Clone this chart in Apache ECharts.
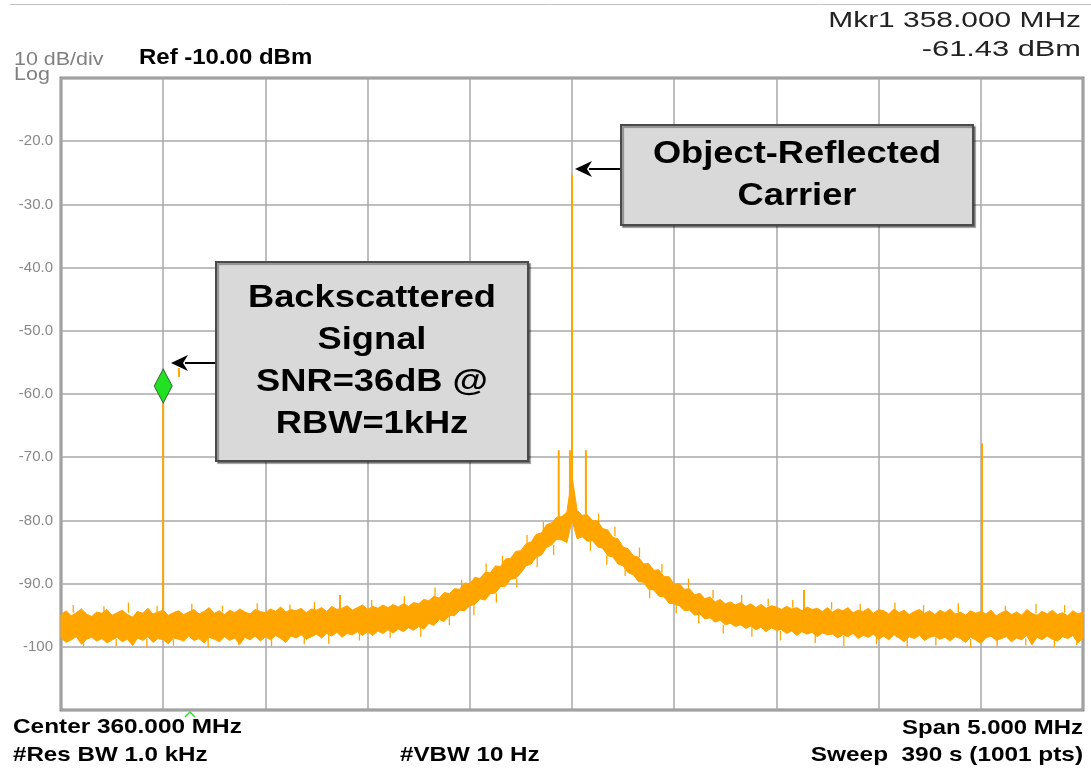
<!DOCTYPE html>
<html>
<head>
<meta charset="utf-8">
<script src="https://cdn.jsdelivr.net/npm/echarts@6/dist/echarts.min.js"></script>
<style>
html,body{margin:0;padding:0;background:#fff;}
#chart{width:1091px;height:770px;}
</style>
</head>
<body>
<div id="chart"></div>
<script>
// ---- Data ----
// Sweep: 357.5 .. 362.5 MHz, envelope sampled every 0.025 MHz
const sweepStart = 357.5;
const sweepStep = 0.025;

// Upper edge of the noise trace (dBm)
const upperEnv = [
 -94.9,-94.3,-95.1,-94.6,-94.0,-94.8,-95.2,-94.5,-94.7,-94.1,
 -95.0,-94.6,-94.2,-94.9,-95.3,-94.4,-94.7,-93.9,-94.8,-94.5,
 -94.2,-95.0,-94.6,-94.3,-94.9,-94.5,-94.1,-94.8,-94.4,-93.8,
 -94.7,-94.3,-94.9,-94.2,-94.6,-94.0,-94.5,-94.8,-94.1,-94.4,
 -94.6,-94.0,-94.4,-93.7,-94.5,-94.1,-94.3,-93.9,-94.6,-94.0,
 -94.2,-93.8,-94.4,-93.6,-94.1,-93.9,-93.5,-94.2,-93.8,-93.4,
 -94.1,-93.6,-93.9,-93.4,-93.8,-93.3,-93.7,-93.2,-93.6,-93.0,
 -93.2,-92.5,-92.7,-92.0,-92.3,-91.4,-91.6,-90.8,-90.9,-89.9,
 -90.0,-89.0,-89.2,-88.2,-88.3,-87.2,-87.3,-86.1,-86.0,-84.9,
 -84.8,-83.7,-83.4,-82.2,-82.0,-80.7,-80.4,-79.5,-79.4,-78.7,
 -73.0,
 -78.4,-79.2,-79.1,-80.0,-80.1,-81.3,-81.5,-82.7,-82.9,-84.2,
 -84.5,-85.6,-85.8,-86.9,-86.8,-87.9,-87.8,-88.9,-88.9,-90.1,
 -90.0,-90.9,-90.8,-91.8,-91.5,-92.4,-92.1,-92.9,-92.5,-93.2,
 -92.9,-93.4,-93.0,-93.6,-93.2,-93.8,-93.3,-93.9,-93.5,-93.7,
 -94.1,-93.6,-94.0,-93.8,-94.3,-93.7,-94.1,-93.9,-94.4,-93.8,
 -94.5,-94.0,-94.3,-93.8,-94.6,-94.2,-94.4,-93.9,-94.7,-94.1,
 -94.3,-94.8,-94.0,-94.6,-94.2,-94.9,-94.4,-94.1,-94.7,-94.3,
 -94.9,-94.2,-94.6,-94.0,-94.8,-94.5,-95.0,-94.3,-94.7,-94.4,
 -94.8,-94.2,-95.1,-94.6,-94.3,-94.9,-94.5,-95.0,-94.1,-94.7,
 -95.0,-94.4,-94.8,-94.2,-94.9,-94.6,-95.1,-94.3,-94.8,-94.5
];

// Lower edge of the noise trace (dBm)
const lowerEnv = [
 -98.6,-99.3,-98.9,-98.4,-99.6,-98.8,-98.5,-99.1,-98.7,-99.4,
 -98.9,-98.5,-99.2,-98.8,-99.8,-98.6,-99.0,-98.4,-99.3,-98.7,
 -98.9,-99.5,-98.6,-98.8,-99.1,-98.3,-99.0,-98.7,-99.4,-98.5,
 -98.8,-99.2,-98.4,-99.0,-98.6,-99.6,-98.5,-98.9,-98.3,-99.1,
 -98.4,-98.9,-98.2,-98.7,-99.3,-98.3,-98.6,-98.1,-98.8,-98.4,
 -98.0,-98.6,-97.9,-98.3,-97.7,-98.5,-97.9,-98.1,-97.6,-98.2,
 -97.6,-98.2,-97.5,-97.9,-97.3,-97.8,-97.2,-97.6,-97.0,-97.4,
 -96.8,-97.2,-96.3,-96.6,-95.7,-96.0,-95.0,-95.1,-94.2,-94.3,
 -93.5,-93.3,-92.4,-92.6,-91.6,-91.5,-90.5,-90.4,-89.3,-89.2,
 -88.3,-87.2,-86.9,-85.8,-85.5,-84.3,-83.9,-83.0,-83.1,-83.5,
 -80.0,
 -82.9,-82.6,-83.3,-83.2,-84.2,-84.4,-85.6,-85.8,-86.9,-87.2,
 -88.3,-88.6,-89.7,-89.8,-90.9,-91.0,-92.0,-92.1,-93.1,-93.2,
 -93.5,-94.3,-94.2,-95.0,-94.8,-95.6,-95.4,-96.1,-95.8,-96.5,
 -96.3,-96.8,-96.5,-97.1,-96.7,-97.3,-96.9,-97.6,-97.0,-97.4,
 -97.3,-97.9,-97.5,-98.2,-97.6,-98.0,-97.7,-98.4,-97.8,-98.1,
 -98.0,-98.6,-98.1,-98.4,-97.9,-98.7,-98.2,-98.5,-98.0,-98.8,
 -98.3,-98.9,-98.1,-98.6,-99.2,-98.4,-98.7,-98.2,-99.0,-98.5,
 -98.3,-98.8,-98.5,-99.1,-98.4,-98.7,-99.3,-98.5,-98.9,-99.5,
 -98.6,-98.3,-99.0,-98.7,-98.4,-99.2,-98.6,-98.9,-98.2,-99.7,
 -98.5,-98.9,-98.3,-98.8,-99.1,-98.4,-98.7,-98.2,-99.4,-98.6
];

// Isolated noise excursions poking out of the trace: frequency, start level, tip level
const noiseFreq = [
 357.56,357.71,357.83,357.97,358.14,358.29,358.46,358.62,358.74,359.02,359.18,359.33,359.46,359.58,359.66,359.78,359.86,
 360.13,360.21,360.33,360.44,360.57,360.69,360.83,360.96,361.08,361.27,361.41,361.58,361.72,361.89,362.12,362.27,362.41,
 357.61,357.77,357.92,358.05,358.22,358.37,358.53,358.69,358.81,358.96,359.11,359.26,359.40,359.52,359.63,359.73,359.83,359.91,
 360.09,360.17,360.26,360.38,360.51,360.62,360.74,360.88,361.02,361.19,361.33,361.49,361.64,361.78,361.95,362.08,362.22,362.36,362.47
];
const noiseFrom = [
 -94.6,-94.5,-94.6,-94.5,-94.5,-94.4,-94.4,-94.3,-94.2,-93.8,-93.3,-92.0,-90.8,-88.2,-87.0,-83.7,-81.6,
 -80.3,-82.5,-85.8,-88.3,-90.7,-92.4,-93.1,-93.6,-93.8,-94.1,-94.2,-94.4,-94.5,-94.5,-94.6,-94.7,-94.6,
 -98.7,-98.8,-98.7,-98.8,-98.6,-98.6,-98.5,-98.4,-97.9,-97.6,-97.3,-96.8,-95.0,-93.3,-91.5,-89.2,-85.8,-83.9,
 -83.2,-85.6,-87.2,-90.9,-93.2,-94.8,-96.5,-96.9,-97.5,-98.0,-98.3,-98.4,-98.6,-98.5,-98.8,-98.6,-98.7,-98.6,-98.7
];
const noiseTip = [
 -93.4,-93.6,-93.0,-93.5,-93.2,-93.5,-93.1,-93.3,-92.9,-92.6,-92.0,-90.6,-89.4,-86.8,-85.6,-82.3,-80.2,
 -78.9,-81.0,-84.3,-86.9,-89.2,-91.0,-91.8,-92.4,-92.6,-92.9,-93.2,-93.0,-93.4,-93.1,-93.5,-93.2,-93.4,
 -100.0,-99.9,-100.2,-99.8,-100.1,-99.7,-99.9,-99.6,-99.5,-99.0,-98.6,-98.4,-96.6,-95.0,-93.0,-90.6,-87.4,-85.5,
 -84.8,-87.0,-88.8,-92.3,-94.7,-96.3,-97.9,-98.4,-99.0,-99.4,-99.9,-99.6,-100.1,-99.8,-100.2,-99.9,-99.8,-100.0,-99.7
];

// Discrete spectral lines: frequency (MHz), bottom level, top level (dBm)
const spikeFreq = [358.0, 358.077, 358.865, 359.935, 359.99, 360.0, 360.068, 361.135, 362.006];
const spikeBase = [-96.0, -57.3, -95.0, -80.0, -79.0, -79.0, -80.0, -95.0, -96.0];
const spikePeak = [-61.43, -55.9, -91.8, -68.9, -68.9, -25.3, -68.9, -91.0, -67.8];

// Marker 1
const markerFreq = [358.0];
const markerLevel = [-61.43];

// Axis
const xMin = 357.5, xMax = 362.5, xStep = 0.5;
const yMin = -110, yMax = -10, yStep = 10;

// ---- Build ----
const ORANGE = '#ffa500';
const freqs = upperEnv.map((_, i) => +(sweepStart + i * sweepStep).toFixed(3));
const spikeData = spikeFreq.map((f, i) => [f, spikeBase[i], spikePeak[i]]);
const noiseData = noiseFreq.map((f, i) => [f, noiseFrom[i], noiseTip[i]]);
const markerData = markerFreq.map((f, i) => [f, markerLevel[i]]);

const chart = echarts.init(document.getElementById('chart'), null, {renderer: 'canvas'});

const FONT = '"Liberation Sans", Arial, Helvetica, sans-serif';
function txt(x, y, text, opts) {
  return {
    type: 'text', x: x, y: y, scaleX: opts.scale || 1, silent: true, z: 100,
    style: {
      text: text,
      fill: opts.color || '#000',
      font: (opts.weight || 'normal') + ' ' + opts.size + 'px ' + FONT,
      align: opts.align || 'left',
      verticalAlign: 'middle',
      lineHeight: opts.lineHeight || opts.size
    }
  };
}
function arrow(x1, y, x2) {
  return [
    {type: 'line', silent: true, z: 100, shape: {x1: x1, y1: y, x2: x2 + 14, y2: y}, style: {stroke: '#000', lineWidth: 2}},
    {type: 'polygon', silent: true, z: 100, shape: {points: [[x2, y], [x2 + 17, y - 8], [x2 + 12, y], [x2 + 17, y + 8]]}, style: {fill: '#000'}}
  ];
}
function segmentSeries(name, data, width, z) {
  return {
    name: name, type: 'custom', coordinateSystem: 'cartesian2d', silent: true, z: z,
    data: data, encode: {x: 0, y: [1, 2]},
    renderItem: function (params, api) {
      const a = api.coord([api.value(0), api.value(1)]);
      const b = api.coord([api.value(0), api.value(2)]);
      return {type: 'line', shape: {x1: a[0], y1: a[1], x2: b[0], y2: b[1]}, style: {stroke: ORANGE, lineWidth: width}};
    }
  };
}

const boxStyle = {fill: '#d9d9d9', stroke: '#4a4a4a', lineWidth: 2, shadowColor: 'rgba(0,0,0,0.35)', shadowOffsetX: 2, shadowOffsetY: 2, shadowBlur: 1};
const graphics = [
  {type: 'line', silent: true, shape: {x1: 10, y1: 4.5, x2: 1091, y2: 4.5}, style: {stroke: '#c0c0c0', lineWidth: 1}},
  txt(14, 60, '10 dB/div', {size: 19, color: '#808080', scale: 1.13}),
  txt(14, 75, 'Log', {size: 19, color: '#808080', scale: 1.13}),
  txt(139, 58, 'Ref -10.00 dBm', {size: 22, weight: 'bold', scale: 1.09}),
  txt(1081, 20.5, 'Mkr1 358.000 MHz', {size: 22, color: '#222', scale: 1.36, align: 'right'}),
  txt(1081, 49.5, '-61.43 dBm', {size: 22, color: '#222', scale: 1.40, align: 'right'}),
  txt(13, 727.5, 'Center 360.000 MHz', {size: 21, weight: 'bold', scale: 1.16}),
  txt(13, 755.5, '#Res BW 1.0 kHz', {size: 21, weight: 'bold', scale: 1.15}),
  txt(400, 755.5, '#VBW 10 Hz', {size: 21, weight: 'bold', scale: 1.15}),
  txt(1083, 728, 'Span 5.000 MHz', {size: 21, weight: 'bold', scale: 1.14, align: 'right'}),
  txt(1083, 755.5, 'Sweep  390 s (1001 pts)', {size: 21, weight: 'bold', scale: 1.16, align: 'right'}),
  {type: 'rect', silent: true, z: 90, shape: {x: 621, y: 125, width: 352, height: 100}, style: boxStyle},
  txt(797, 175, 'Object-Reflected\nCarrier', {size: 31, weight: 'bold', scale: 1.17, align: 'center', lineHeight: 42}),
  {type: 'rect', silent: true, z: 90, shape: {x: 216, y: 262, width: 312, height: 199}, style: boxStyle},
  txt(372, 361.5, 'Backscattered\nSignal\nSNR=36dB @\nRBW=1kHz', {size: 31, weight: 'bold', scale: 1.17, align: 'center', lineHeight: 42}),
  ...arrow(620, 169, 575),
  ...arrow(215, 363, 171),
  {type: 'polyline', silent: true, z: 100, shape: {points: [[185, 717], [190, 712], [195, 717]]}, style: {stroke: '#33dd33', lineWidth: 1.5, fill: null}}
];

const option = {
  backgroundColor: '#fff',
  animation: false,
  grid: {left: 61, top: 78, width: 1022, height: 632, show: true, borderColor: '#8a8a8a', borderWidth: 3, backgroundColor: '#fff', containLabel: false},
  xAxis: {
    type: 'value', min: xMin, max: xMax, interval: xStep,
    axisLine: {show: false}, axisTick: {show: false}, axisLabel: {show: false},
    splitLine: {show: true, lineStyle: {color: '#a8a8a8', width: 1.5}}
  },
  yAxis: {
    type: 'value', min: yMin, max: yMax, interval: yStep,
    axisLine: {show: false}, axisTick: {show: false},
    axisLabel: {
      show: true, color: '#888', fontSize: 15, fontFamily: FONT, margin: 8,
      formatter: function (v) {
        if (v === yMax || v === yMin) return '';
        return Math.abs(v) >= 100 ? String(v) : v.toFixed(1);
      }
    },
    splitLine: {show: true, lineStyle: {color: '#a8a8a8', width: 1.5}}
  },
  series: [
    {
      name: 'trace', type: 'custom', coordinateSystem: 'cartesian2d', silent: true, z: 3,
      data: [[freqs[0], upperEnv[0]]],
      renderItem: function (params, api) {
        const pts = [];
        for (let i = 0; i < freqs.length; i++) pts.push(api.coord([freqs[i], upperEnv[i]]));
        for (let i = freqs.length - 1; i >= 0; i--) pts.push(api.coord([freqs[i], lowerEnv[i]]));
        return {type: 'polygon', shape: {points: pts}, style: {fill: ORANGE, stroke: ORANGE, lineWidth: 1}};
      }
    },
    segmentSeries('noise', noiseData, 1.3, 4),
    segmentSeries('lines', spikeData, 2, 5),
    {
      name: 'Mkr1', type: 'scatter', silent: true, z: 6,
      data: markerData, symbol: 'diamond', symbolSize: [18, 34], symbolOffset: [0, -17],
      itemStyle: {color: '#22e022', borderColor: '#2f6b2f', borderWidth: 1, opacity: 1}
    }
  ],
  graphic: graphics
};
chart.setOption(option);
</script>
</body>
</html>
